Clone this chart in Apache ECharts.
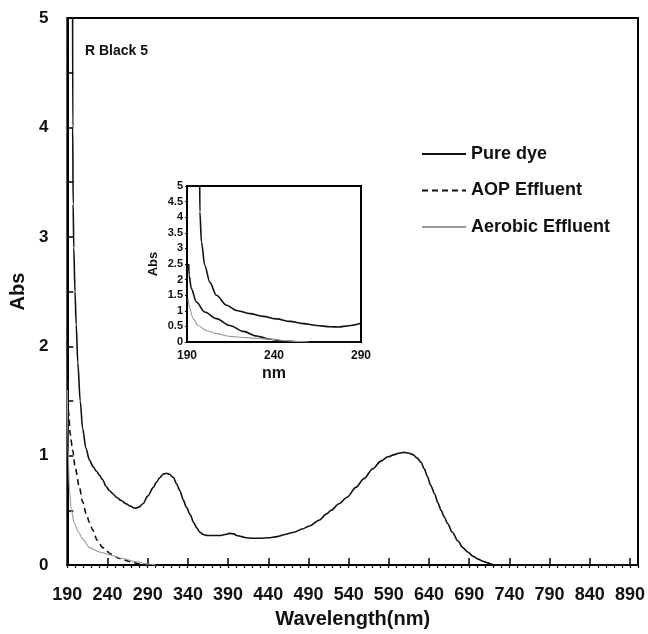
<!DOCTYPE html>
<html>
<head>
<meta charset="utf-8">
<script src="https://cdn.jsdelivr.net/npm/echarts@6/dist/echarts.min.js"></script>
<style>html,body{margin:0;padding:0;background:#fff}#c{width:648px;height:634px}</style>
</head>
<body>
<div id="c"></div>
<script>
// ---- data (wavelength nm / absorbance) ----
const pureWl = [196.5,196.7,197.2,198,199.5,201,203,206,209,213,217.5,222,226,230,234,238,242.5,247,251,257,263,268,274,279,284,290,297,301,305,309,313,317,322,326,330,334,338,343,347,351,355,359,364,372,380,386,392,397,401,407,413,420,430,440,451,461,472,482,492,503,513,518,528,538,549,559,570,580,589,597,603,609,614,620,625,630,634,638,642,647,651,655,659,663,669,676,682,688,695,701,707,713,718,722,740,780,820,860,900];
const pureAbs = [5.3,4.0,3.3,2.9,2.5,2.2,1.85,1.5,1.25,1.07,0.96,0.9,0.86,0.82,0.78,0.72,0.68,0.65,0.62,0.59,0.56,0.54,0.52,0.53,0.56,0.63,0.71,0.76,0.8,0.83,0.84,0.83,0.8,0.74,0.68,0.6,0.53,0.46,0.39,0.34,0.3,0.28,0.27,0.27,0.27,0.28,0.29,0.285,0.27,0.26,0.25,0.245,0.245,0.25,0.26,0.28,0.3,0.33,0.36,0.41,0.47,0.5,0.56,0.62,0.71,0.79,0.88,0.95,0.99,1.01,1.025,1.03,1.025,1.01,0.98,0.94,0.88,0.81,0.73,0.65,0.57,0.5,0.44,0.38,0.3,0.22,0.16,0.12,0.08,0.055,0.035,0.02,0.008,0,0,0,0,0,0];

const aopWl = [190,190.5,191.5,193.5,196.6,200,205,209,213.4,217.5,221.6,227,234,244.6,255,269.6,280,290];
const aopAbs = [2.15,1.7,1.4,1.2,1.05,0.88,0.71,0.58,0.47,0.39,0.32,0.23,0.16,0.1,0.06,0.03,0.01,0];

const aerWl = [190,190.8,192.5,195,198.75,204,209,217.5,230,244.6,259,276,290,300];
const aerAbs = [1.6,1.1,0.7,0.5,0.38,0.3,0.24,0.16,0.12,0.09,0.06,0.03,0.01,0];

// inset (zoomed 190-290 nm)
const inPureWl = [197.3,197.4,198.3,200.2,203.1,206.9,212.7,218.5,226.2,233.8,241.5,249.2,256.9,264.6,272.3,277,283,290];
const inPureAbs = [5.2,4.17,3.21,2.46,1.92,1.5,1.18,1.01,0.91,0.82,0.74,0.66,0.59,0.53,0.49,0.48,0.52,0.6];
const inAopWl = [191,191.2,192.5,195.4,200.2,206.9,214.6,222.3,230,237.7,245.4,253,263.7,290];
const inAopAbs = [2.5,2.14,1.71,1.28,0.96,0.75,0.53,0.34,0.19,0.09,0.03,0.01,0,0];
const inAerWl = [190.6,191.5,193.5,196.3,201.2,206.9,214.6,224.2,231.9,237.7,245,252,260];
const inAerAbs = [1.39,1.07,0.75,0.53,0.37,0.27,0.18,0.14,0.11,0.09,0.05,0.02,0];

// ticks
const xMajor = [190,240,290,340,390,440,490,540,590,640,690,740,790,840,890];
const xMinor = [];
for (let v = 190; v <= 900; v += 10) xMinor.push(v);
const yLabels = [0,1,2,3,4,5];
const yTicks = [0,0.5,1,1.5,2,2.5,3,3.5,4,4.5,5];
const inXLabels = [190,240,290];
const seriesNames = ['Pure dye','AOP Effluent','Aerobic Effluent'];

const zip = (a, b) => a.map((v, i) => [v, b[i]]);
const FF = '"Liberation Sans", Arial, sans-serif';
const TXT = '#111';
const mainGrid = {left: 67, top: 18, right: 10, bottom: 66};

const chart = echarts.init(document.getElementById('c'), null, {renderer: 'canvas'});
chart.setOption({
  animation: false,
  backgroundColor: '#fff',
  textStyle: {fontFamily: FF},
  graphic: [{
    type: 'text', left: 85, top: 44, z: 10,
    style: {text: 'R Black 5', font: 'bold 14px ' + FF, fill: TXT}
  }],
  legend: {
    data: seriesNames,
    orient: 'vertical', left: 416, top: 140,
    itemWidth: 44, itemHeight: 14, itemGap: 18.5,
    itemStyle: {opacity: 0},
    textStyle: {fontSize: 18, fontWeight: 'bold', color: TXT, fontFamily: FF},
    selectedMode: false
  },
  grid: [
    Object.assign({show: true, borderColor: '#000', borderWidth: 2, backgroundColor: '#fff'}, mainGrid),
    {left: 187, top: 186, width: 174, height: 156, show: true, borderColor: '#000', borderWidth: 2, backgroundColor: '#fff', z: 5},
    Object.assign({show: false}, mainGrid)
  ],
  xAxis: [
    {
      type: 'value', gridIndex: 0, min: 190, max: 900, position: 'bottom',
      name: 'Wavelength(nm)', nameLocation: 'middle', nameGap: 42,
      nameTextStyle: {fontSize: 20, fontWeight: 'bold', color: TXT, fontFamily: FF},
      axisLine: {lineStyle: {color: '#000', width: 2}},
      axisTick: {inside: true, length: 7, customValues: xMajor, lineStyle: {color: '#000', width: 1.5}},
      axisLabel: {customValues: xMajor, margin: 21, fontSize: 18, fontWeight: 'bold', color: TXT, fontFamily: FF},
      splitLine: {show: false}
    },
    {
      type: 'value', gridIndex: 2, min: 190, max: 900, position: 'bottom',
      axisLine: {show: false},
      axisTick: {inside: true, length: 4, customValues: xMinor, lineStyle: {color: '#000', width: 1.2}},
      axisLabel: {show: false},
      splitLine: {show: false}
    },
    {
      type: 'value', gridIndex: 1, min: 190, max: 290,
      name: 'nm', nameLocation: 'middle', nameGap: 24,
      nameTextStyle: {fontSize: 16, fontWeight: 'bold', color: TXT, fontFamily: FF},
      axisLine: {lineStyle: {color: '#000', width: 2}},
      axisTick: {show: false},
      axisLabel: {customValues: inXLabels, margin: 8, fontSize: 12, fontWeight: 'bold', color: TXT, fontFamily: FF},
      splitLine: {show: false}, z: 6
    }
  ],
  yAxis: [
    {
      type: 'value', gridIndex: 0, min: 0, max: 5,
      name: 'Abs', nameLocation: 'middle', nameGap: 29,
      nameTextStyle: {fontSize: 20, fontWeight: 'bold', color: TXT, fontFamily: FF},
      axisLine: {lineStyle: {color: '#000', width: 2}},
      axisTick: {inside: true, length: 6, customValues: yTicks, lineStyle: {color: '#000', width: 1.5}},
      axisLabel: {customValues: yLabels, margin: 19, fontSize: 17, fontWeight: 'bold', color: TXT, fontFamily: FF},
      splitLine: {show: false}
    },
    {
      type: 'value', gridIndex: 1, min: 0, max: 5, interval: 0.5,
      name: 'Abs', nameLocation: 'middle', nameGap: 27,
      nameTextStyle: {fontSize: 13, fontWeight: 'bold', color: TXT, fontFamily: FF},
      axisLine: {lineStyle: {color: '#000', width: 2}},
      axisTick: {show: true, length: 2, lineStyle: {color: '#000'}},
      axisLabel: {margin: 4, fontSize: 11, fontWeight: 'bold', color: TXT, fontFamily: FF},
      splitLine: {show: false}, z: 6
    },
    {
      type: 'value', gridIndex: 2, min: 0, max: 5, show: false
    }
  ],
  series: [
    {name: seriesNames[0], type: 'line', xAxisIndex: 0, yAxisIndex: 0, data: zip(pureWl, pureAbs),
      showSymbol: false, symbol: 'none', smooth: 0.3, smoothMonotone: 'x', clip: true,
      lineStyle: {color: '#111', width: 1.6}, itemStyle: {color: '#111'}},
    {name: seriesNames[1], type: 'line', xAxisIndex: 0, yAxisIndex: 0, data: zip(aopWl, aopAbs),
      showSymbol: false, symbol: 'none', smooth: 0.3, smoothMonotone: 'x', clip: true,
      lineStyle: {color: '#111', width: 1.6, type: [6, 4]}, itemStyle: {color: '#111'}},
    {name: seriesNames[2], type: 'line', xAxisIndex: 0, yAxisIndex: 0, data: zip(aerWl, aerAbs),
      showSymbol: false, symbol: 'none', smooth: 0.3, smoothMonotone: 'x', clip: true,
      lineStyle: {color: '#999', width: 1.1}, itemStyle: {color: '#999'}},
    {name: seriesNames[0], type: 'line', xAxisIndex: 2, yAxisIndex: 1, data: zip(inPureWl, inPureAbs), z: 7,
      showSymbol: false, symbol: 'none', smooth: 0.3, smoothMonotone: 'x', clip: true,
      lineStyle: {color: '#111', width: 1.6}},
    {name: seriesNames[1], type: 'line', xAxisIndex: 2, yAxisIndex: 1, data: zip(inAopWl, inAopAbs), z: 7,
      showSymbol: false, symbol: 'none', smooth: 0.3, smoothMonotone: 'x', clip: true,
      lineStyle: {color: '#111', width: 1.6}},
    {name: seriesNames[2], type: 'line', xAxisIndex: 2, yAxisIndex: 1, data: zip(inAerWl, inAerAbs), z: 7,
      showSymbol: false, symbol: 'none', smooth: 0.3, smoothMonotone: 'x', clip: true,
      lineStyle: {color: '#999', width: 1.1}}
  ]
});
</script>
</body>
</html>
